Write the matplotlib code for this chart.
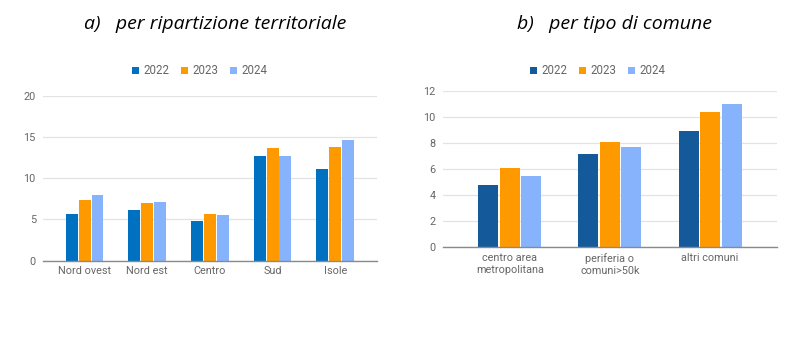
import numpy as np
import matplotlib; matplotlib.use("Agg")
from matplotlib import pyplot as plt

# ---- data ----
years = ["2022", "2023", "2024"]
regions = ["Nord ovest", "Nord est", "Centro", "Sud", "Isole"]
reg_2022 = [5.6, 6.1, 4.8, 12.7, 11.1]
reg_2023 = [7.3, 7.0, 5.7, 13.7, 13.8]
reg_2024 = [8.0, 7.1, 5.5, 12.7, 14.6]

comuni = ["centro area\nmetropolitana", "periferia o\ncomuni>50k", "altri comuni"]
com_2022 = [4.8, 7.2, 8.9]
com_2023 = [6.1, 8.1, 10.4]
com_2024 = [5.5, 7.7, 11.0]

plt.rcParams["font.family"] = ["Roboto", "DejaVu Sans"]
TICK = "#666666"


def bars(ax, cats, series, colors, width, ymax, step):
    x = np.arange(len(cats))
    n = len(series)
    for k, (vals, c) in enumerate(zip(series, colors)):
        ax.bar(x + (k - (n - 1) / 2) * width, vals, width * 0.93, color=c,
               label=years[k], zorder=3)
    ax.set_xlim(-0.67, len(cats) - 1 + 0.67)
    ax.set_ylim(0, ymax)
    ax.set_yticks(np.arange(0, ymax + 0.01, step))
    ax.set_xticks(x)
    ax.set_xticklabels(cats, fontsize=7.8, color=TICK, linespacing=1.3)
    ax.tick_params(axis="y", labelsize=7.8, labelcolor=TICK, length=0, pad=5)
    ax.tick_params(axis="x", length=0, pad=4)
    ax.grid(axis="y", color="#e3e3e3", lw=0.9, zorder=0)
    for s in ["top", "right", "left"]:
        ax.spines[s].set_visible(False)
    ax.spines["bottom"].set_color("#8a8a8a")
    ax.spines["bottom"].set_linewidth(1.0)
    ax.spines["bottom"].set_zorder(4)


fig = plt.figure(figsize=(8, 3.55), dpi=100)
ax1 = fig.add_axes([0.0534, 0.2656, 0.418, 0.465])
ax2 = fig.add_axes([0.5534, 0.3034, 0.418, 0.4403])

bars(ax1, regions, [reg_2022, reg_2023, reg_2024],
     ["#0070c0", "#ff9900", "#86b3fb"], 0.205, 20, 5)
bars(ax2, comuni, [com_2022, com_2023, com_2024],
     ["#145a9a", "#ff9900", "#86b3fb"], 0.215, 12, 2)

for ax, cx in [(ax1, 0.25), (ax2, 0.7475)]:
    h, l = ax.get_legend_handles_labels()
    fig.legend(h, l, loc="center", bbox_to_anchor=(cx, 0.80), ncol=3, frameon=False,
               fontsize=8.3, handlelength=0.6, handleheight=0.6, handletextpad=0.4,
               columnspacing=1.0, labelcolor=TICK)

fig.text(0.269, 0.932, "a)   per ripartizione territoriale", ha="center", va="center",
         fontsize=14, style="italic", family=["Open Sans", "DejaVu Sans"])
fig.text(0.768, 0.932, "b)   per tipo di comune", ha="center", va="center",
         fontsize=14, style="italic", family=["Open Sans", "DejaVu Sans"])

fig.savefig("out.png", dpi=100)
